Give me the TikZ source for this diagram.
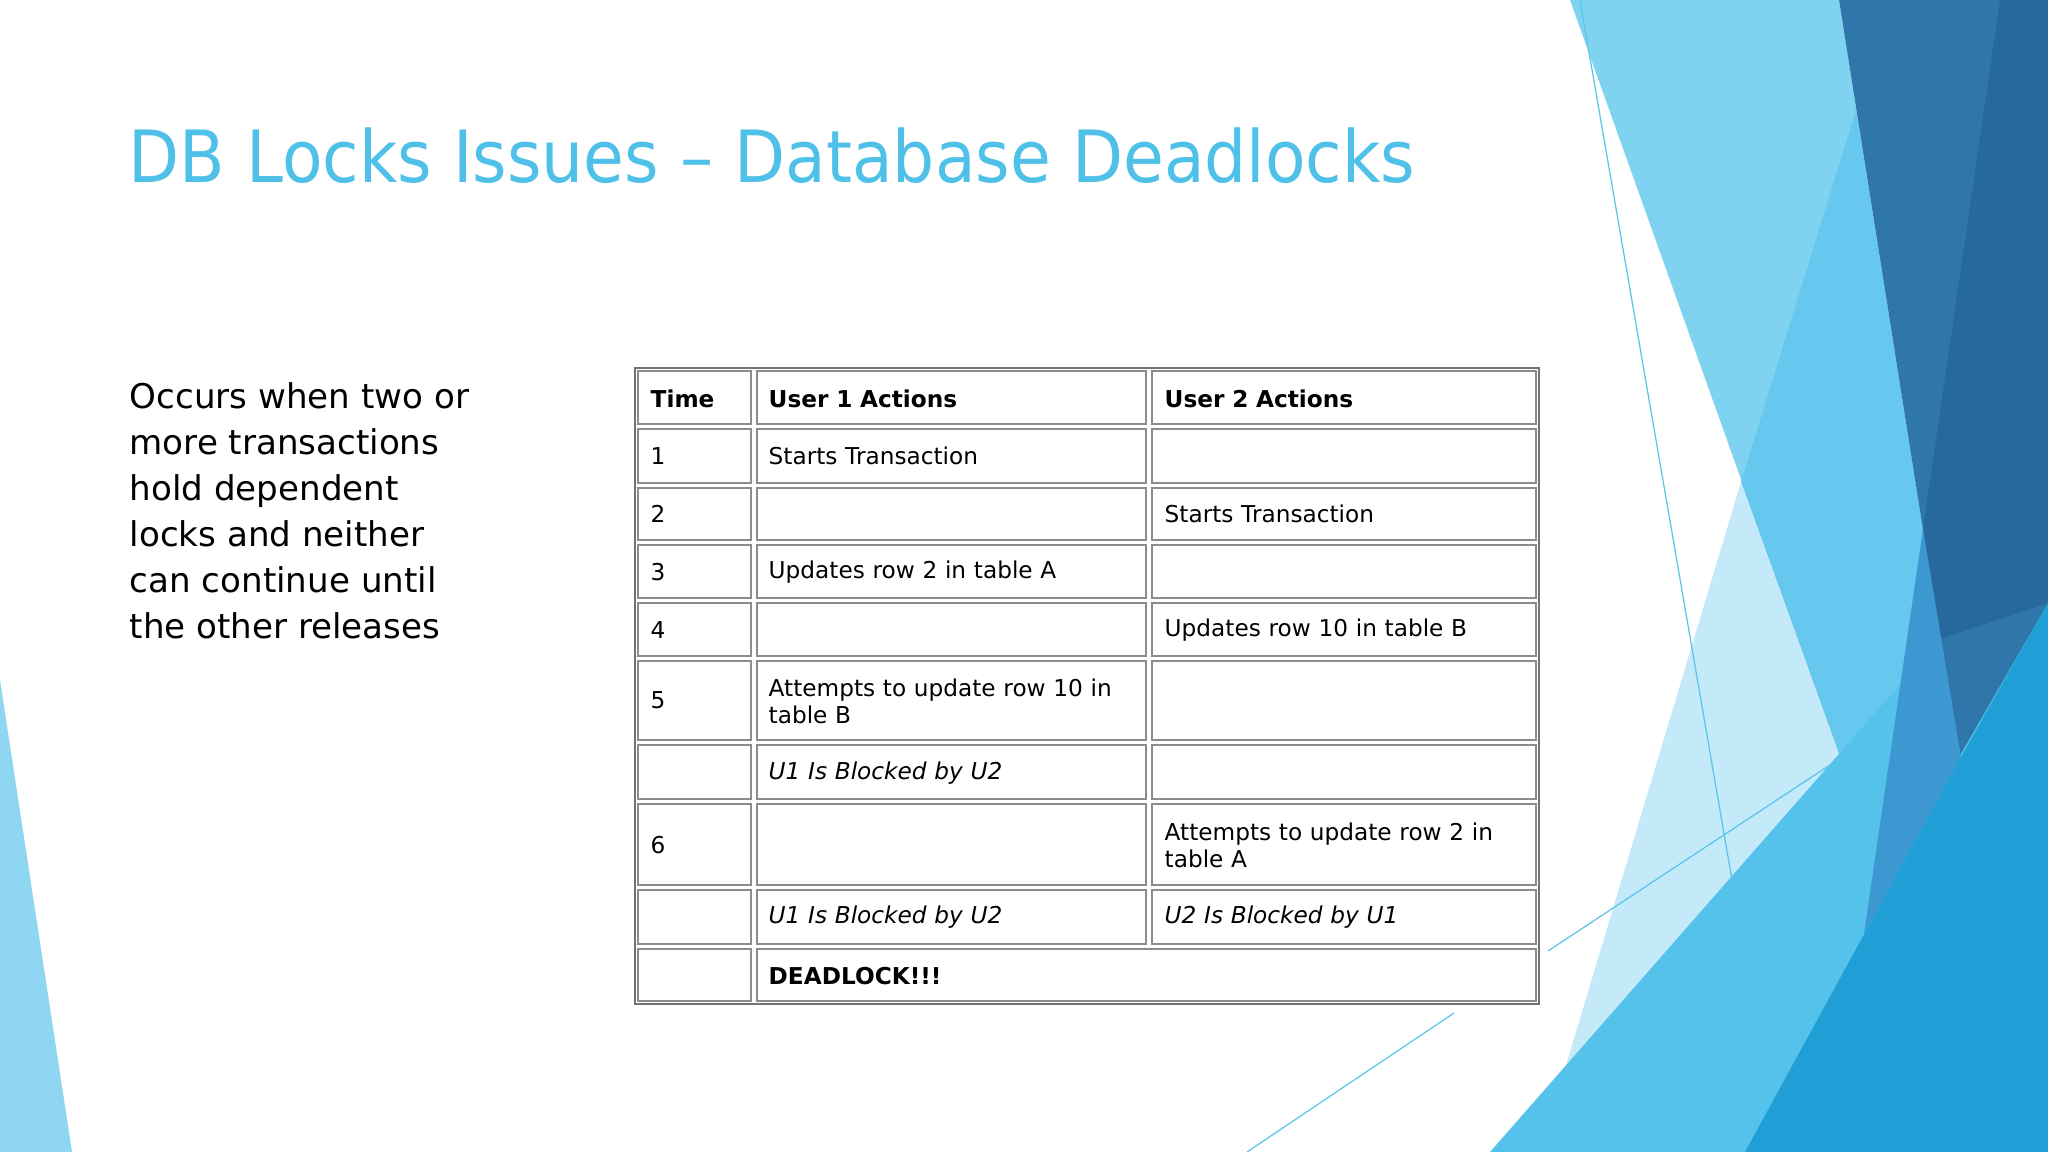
\documentclass[tikz,border=0pt]{standalone}
\usepackage{fontspec}
\setmainfont{DejaVu Sans}
\newfontfamily\titlefont{DejaVu Sans}
\begin{document}
\begin{tikzpicture}[x=0.01cm,y=-0.01cm,
  cellbox/.style={draw=black!45,line width=0.35pt},
  celltxt/.style={anchor=west,font=\fontsize{6.6}{7.6}\selectfont,inner sep=0pt,align=left,text width=3.7cm},
  thinline/.style={draw={rgb,255:red,90;green,196;blue,235},line width=0.35pt}]
\useasboundingbox (0,0) rectangle (2048,1152);
\fill[white] (0,0) rectangle (2048,1152);
% background decoration
\fill[color={rgb,255:red,143;green,214;blue,242}] (0,680) -- (72,1152) -- (0,1152) -- cycle;
\fill[color={rgb,255:red,128;green,211;blue,240}] (1570,0) -- (1839,0) -- (1959,757) -- (1839,754) -- cycle;
\fill[color={rgb,255:red,102;green,200;blue,238}] (1741,482) -- (1856,110) -- (1959,757) -- (1839,754) -- cycle;
\fill[color={rgb,255:red,196;green,233;blue,248}] (1741,482) -- (1839,754) -- (1880,1152) -- (1540,1152) -- cycle;
\fill[color={rgb,255:red,85;green,194;blue,235}] (1490,1152) -- (1839,754) -- (2048,516) -- (2048,1152) -- cycle;
\fill[color={rgb,255:red,47;green,119;blue,170}] (1839,0) -- (2048,0) -- (2048,603) -- (1959,757) -- cycle;
\fill[color={rgb,255:red,39;green,105;blue,157}] (2000,0) -- (2048,0) -- (2048,603) -- (1937,640) -- (1923,529) -- cycle;
\fill[color={rgb,255:red,61;green,152;blue,210}] (1923,529) -- (1961,757) -- (1864,934) -- cycle;
\fill[color={rgb,255:red,31;green,159;blue,213}] (1745,1152) -- (1961,757) -- (2048,603) -- (2048,1152) -- cycle;
\coordinate (l1a) at (1580,0); \coordinate (l1b) at (1770,1100);
\coordinate (l2a) at (1548,951); \coordinate (l2b) at (1842,757);
\coordinate (l3a) at (1247,1152); \coordinate (l3b) at (1454,1013);
\draw[thinline] (l1a) -- (l1b);
\draw[thinline] (l2a) -- (l2b);
\draw[thinline] (l3a) -- (l3b);
% title
\node[anchor=base west,inner sep=0pt,text={rgb,255:red,79;green,193;blue,232},font=\titlefont\fontsize{20.5}{25}\selectfont] (title) at (128,183) {\scalebox{0.92}[1]{DB Locks Issues – Database Deadlocks}};
% body
\node[anchor=north west,inner sep=0pt,align=left,font=\fontsize{9.7}{13.1}\selectfont] (body) at (129,382)
 {Occurs when two or\\more transactions\\hold dependent\\locks and neither\\can continue until\\the other releases};
% table
\draw[draw=black!55,line width=0.6pt] (635,368) rectangle (1539,1004);
\foreach \ya/\yb in {368/426,426/485,485/542,542/600,600/658,658/742,742/801,801/887,887/946}{
  \draw[cellbox] (638,\ya+3) rectangle (751,\yb-2);
  \draw[cellbox] (757,\ya+3) rectangle (1146,\yb-2);
  \draw[cellbox] (1152,\ya+3) rectangle (1536,\yb-2);
}
\draw[cellbox] (638,949) rectangle (751,1001);
\draw[cellbox] (757,949) rectangle (1536,1001);
\node[celltxt,font=\bfseries\fontsize{6.6}{7.6}\selectfont] (h0) at (650,399) {Time};
\node[celltxt,font=\bfseries\fontsize{6.6}{7.6}\selectfont] (h1) at (768,399) {User 1 Actions};
\node[celltxt,font=\bfseries\fontsize{6.6}{7.6}\selectfont] (h2) at (1164,399) {User 2 Actions};
\node[celltxt] (t1) at (650,456) {1};
\node[celltxt] (a1) at (768,456) {Starts Transaction};
\node[celltxt] (t2) at (650,514) {2};
\node[celltxt] (b2) at (1164,514) {Starts Transaction};
\node[celltxt] (t3) at (650,572) {3};
\node[celltxt] (a3) at (768,572) {Updates row 2 in table A};
\node[celltxt] (t4) at (650,630) {4};
\node[celltxt] (b4) at (1164,630) {Updates row 10 in table B};
\node[celltxt] (t5) at (650,700) {5};
\node[celltxt] (a5) at (768,701) {Attempts to update row 10 in\\table B};
\node[celltxt,font=\itshape\fontsize{6.6}{7.6}\selectfont] (a5b) at (768,773) {U1 Is Blocked by U2};
\node[celltxt] (t6) at (650,845) {6};
\node[celltxt] (b6) at (1164,845) {Attempts to update row 2 in\\table A};
\node[celltxt,font=\itshape\fontsize{6.6}{7.6}\selectfont] (a6b) at (768,917) {U1 Is Blocked by U2};
\node[celltxt,font=\itshape\fontsize{6.6}{7.6}\selectfont] (b6b) at (1164,917) {U2 Is Blocked by U1};
\node[celltxt,font=\bfseries\fontsize{6.6}{7.6}\selectfont] (dl) at (768,976) {DEADLOCK!!!};
\end{tikzpicture}
\end{document}
